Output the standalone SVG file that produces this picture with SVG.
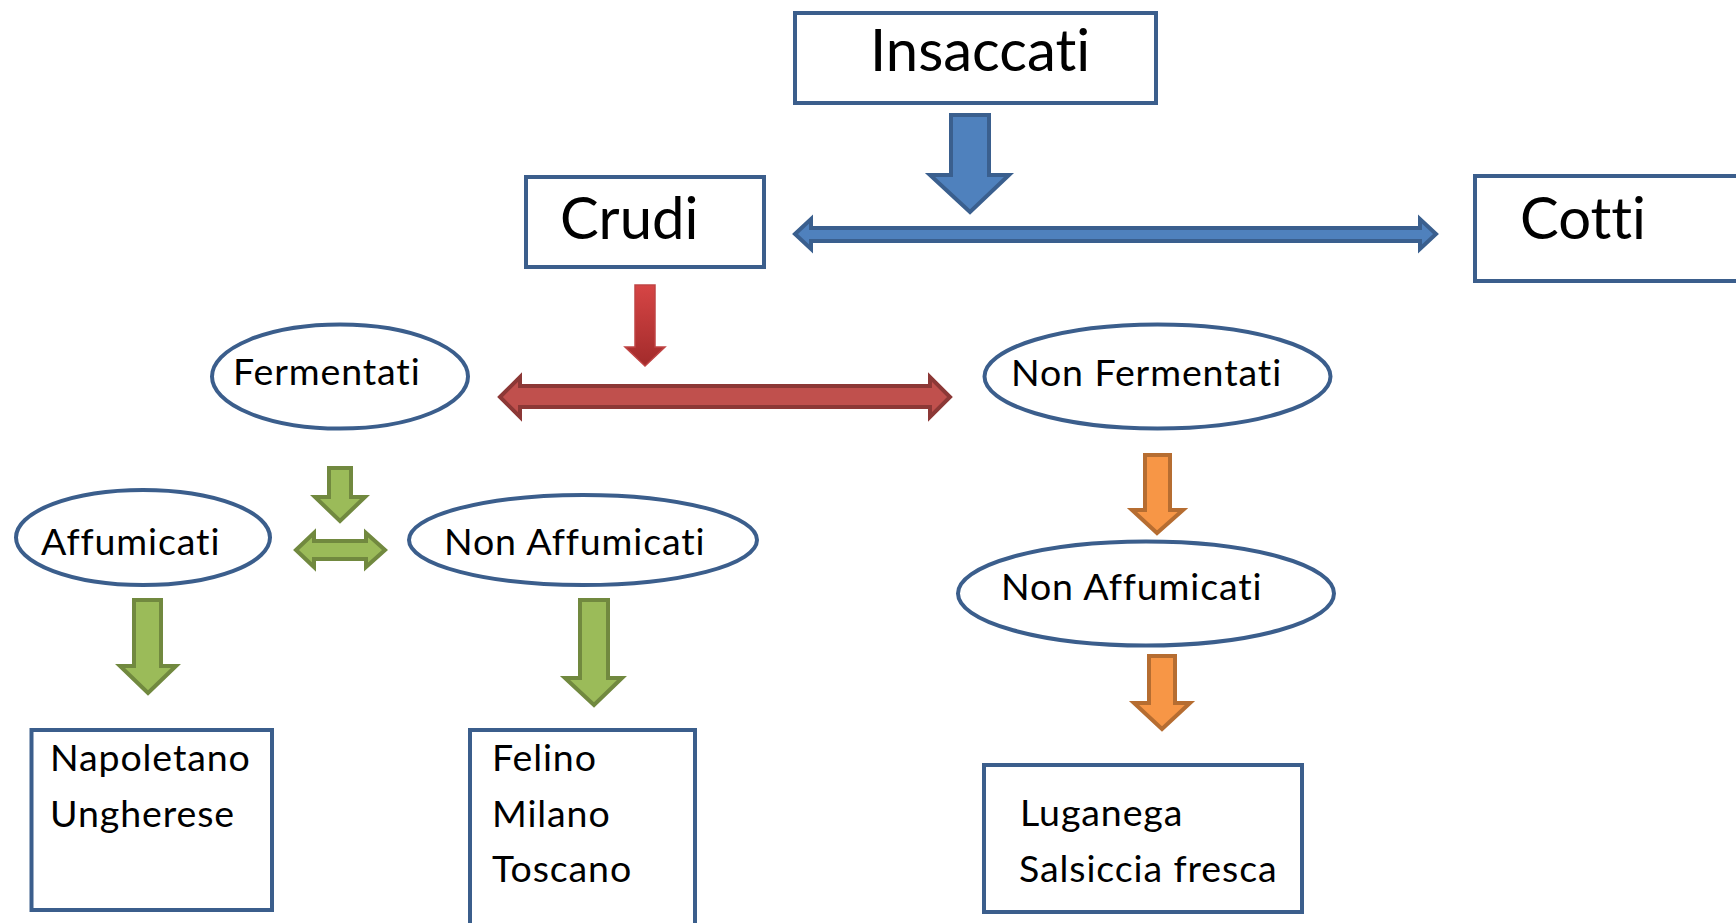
<svg xmlns="http://www.w3.org/2000/svg" width="1736" height="923" viewBox="0 0 1736 923">
<defs>
<style>
.box{fill:#fff;stroke:#3B5E8C;stroke-width:4}
.ell{fill:#fff;stroke:#3B5E8C;stroke-width:4}
.t{font-family:Lato,"Open Sans","Liberation Sans",sans-serif;fill:#000;font-variant-ligatures:none;font-feature-settings:"liga" 0,"clig" 0}
.big{font-size:58px;letter-spacing:0px}
.med{font-size:37.5px;letter-spacing:0.9px}
.blue{fill:#4F81BD;stroke:#3A5F8E;stroke-width:4;stroke-linejoin:miter}
.red{fill:#C0504D;stroke:#8C3836;stroke-width:4}
.redg{fill:url(#rg);stroke:#C04444;stroke-width:1.5}
.green{fill:#9BBB59;stroke:#71893F;stroke-width:4}
.orange{fill:#F79646;stroke:#B66D31;stroke-width:4}
</style>
<linearGradient id="rg" x1="0" y1="0" x2="0" y2="1">
<stop offset="0" stop-color="#D64545"/>
<stop offset="1" stop-color="#A22B2B"/>
</linearGradient>
</defs>
<rect width="1736" height="923" fill="#fff"/>
<g id="connectors">
<path class="blue" d="M951,115 H989 V175 H1009 L970,212 L930,175 H951 Z"/>
<path class="blue" d="M795,234 L811,219 V228 H1420 V219 L1436,234 L1420,249 V241 H811 V249 Z"/>
<path class="redg" d="M635,285 H655 V347 H665 L645,366 L625,347 H635 Z"/>
<path class="red" d="M500,397 L520,377 V386 H930 V377 L950,397 L930,417 V407 H520 V417 Z"/>
<path class="green" d="M329,468 H351 V497 H365 L340,521 L315,497 H329 Z"/>
<path class="green" d="M296,550 L314,533 V541 H366 V533 L385,550 L366,567 V559 H314 V567 Z"/>
<path class="green" d="M134,600 H161 V666 H176 L148,693 L120,666 H134 Z"/>
<path class="green" d="M580,600 H608 V678 H622 L594,705 L565,678 H580 Z"/>
<path class="orange" d="M1145,455 H1170 V510 H1183 L1157,533 L1132,510 H1145 Z"/>
<path class="orange" d="M1149,656 H1175 V703 H1190 L1162,729 L1134,703 H1149 Z"/>
</g>
<g id="insaccati"><rect class="box" x="795" y="13" width="361" height="90"/><text class="t big" x="870" y="70.5">Insaccati</text></g>
<g id="crudi"><rect class="box" x="526" y="177" width="238" height="90"/><text class="t big" x="560" y="239">Crudi</text></g>
<g id="cotti"><rect class="box" x="1475" y="176" width="300" height="105"/><text class="t big" x="1520" y="239">Cotti</text></g>
<g id="fermentati"><ellipse class="ell" cx="340" cy="376.5" rx="128" ry="52"/><text class="t med" x="233" y="385">Fermentati</text></g>
<g id="non-fermentati"><ellipse class="ell" cx="1157.5" cy="376.5" rx="173" ry="52"/><text class="t med" x="1011" y="385.5">Non Fermentati</text></g>
<g id="affumicati"><ellipse class="ell" cx="143" cy="537.5" rx="127" ry="47.5"/><text class="t med" x="41" y="555">Affumicati</text></g>
<g id="non-affumicati-1"><ellipse class="ell" cx="583" cy="540" rx="174" ry="45"/><text class="t med" x="444" y="555">Non Affumicati</text></g>
<g id="non-affumicati-2"><ellipse class="ell" cx="1146" cy="593.5" rx="188" ry="52"/><text class="t med" x="1001" y="600">Non Affumicati</text></g>
<g id="napoletano"><rect class="box" x="31.5" y="730" width="240.5" height="180"/><text class="t med" x="50" y="771">Napoletano</text><text class="t med" x="50" y="827">Ungherese</text></g>
<g id="felino"><rect class="box" x="470" y="730" width="225" height="250"/><text class="t med" x="492" y="771">Felino</text><text class="t med" x="492" y="827">Milano</text><text class="t med" x="492" y="882">Toscano</text></g>
<g id="luganega"><rect class="box" x="984" y="765" width="318" height="147"/><text class="t med" x="1020" y="826.4">Luganega</text><text class="t med" x="1019" y="882">Salsiccia fresca</text></g>
</svg>
